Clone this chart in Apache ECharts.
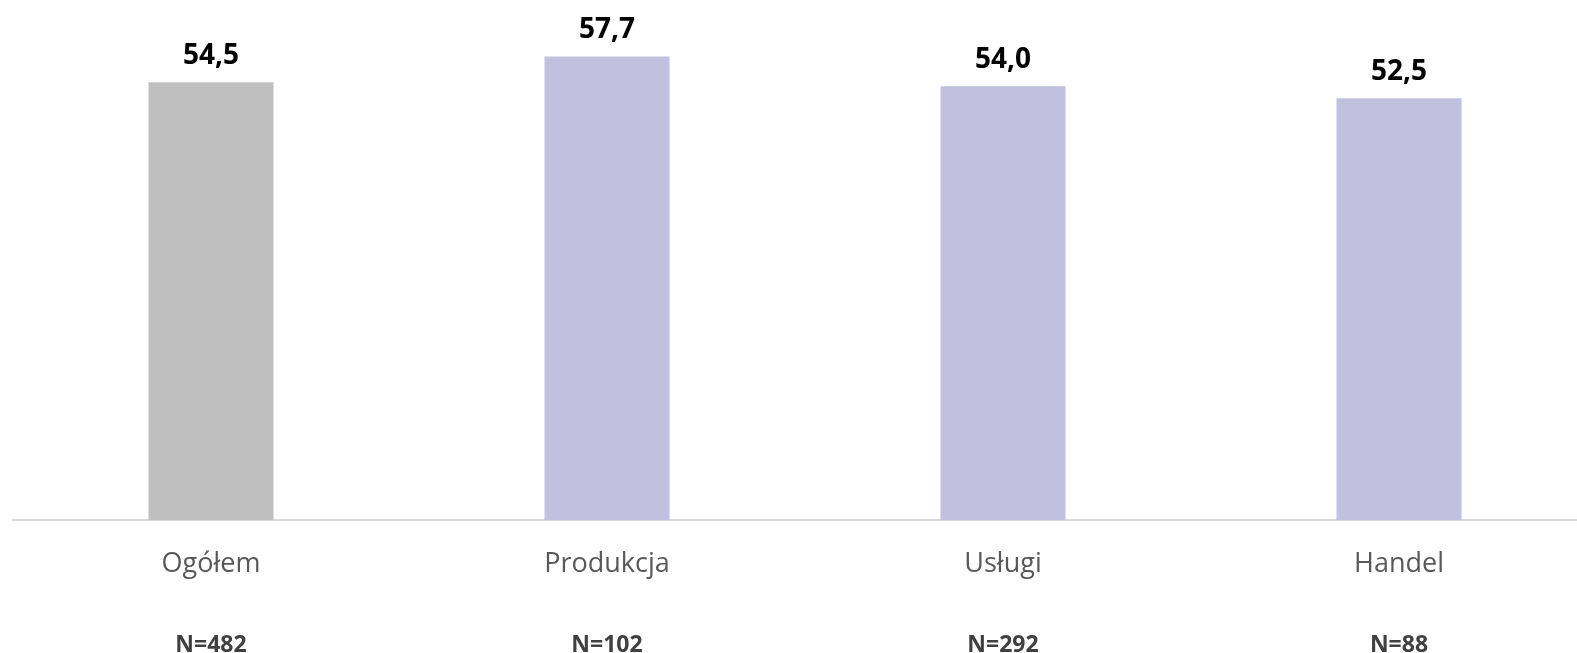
<!DOCTYPE html>
<html>
<head>
<meta charset="utf-8">
<style>
  html, body { margin: 0; padding: 0; background: #fff; }
  #chart { width: 1577px; height: 653px; }
</style>
<script src="https://cdn.jsdelivr.net/npm/echarts@6/dist/echarts.min.js"></script>
</head>
<body>
<div id="chart"></div>
<script>
// dane wykresu
let categories = ['Ogółem', 'Produkcja', 'Usługi', 'Handel'];
let values = [54.5, 57.7, 54.0, 52.5];
let sampleSizes = ['N=482', 'N=102', 'N=292', 'N=88'];
let barColors = ['#bfbfbf', '#c1c0df', '#c1c0df', '#c1c0df'];

let chart = echarts.init(document.getElementById('chart'));

let option = {
  animation: false,
  // siatka wychodzi troche poza prawa krawedz, tak jak w oryginale
  grid: { left: 13, top: 38, right: -20, bottom: 133, outerBoundsMode: 'none' },
  xAxis: [
    {
      type: 'category',
      data: categories,
      axisLine: { lineStyle: { color: '#d9d9d9', width: 2 } },
      axisTick: { show: false },
      axisLabel: {
        color: '#595959',
        fontFamily: 'Open Sans',
        fontSize: 27,
        margin: 31,
        interval: 0
      }
    },
    {
      type: 'category',
      position: 'bottom',
      data: sampleSizes,
      axisLine: { show: false },
      axisTick: { show: false },
      axisLabel: {
        color: '#404040',
        fontFamily: 'Open Sans',
        fontWeight: 'bold',
        fontSize: 23,
        margin: 114,
        interval: 0
      }
    }
  ],
  yAxis: {
    type: 'value',
    min: 0,
    max: 60,
    show: false
  },
  series: [
    {
      type: 'bar',
      barWidth: 125,
      data: values.map(function (v, i) {
        return { value: v, itemStyle: { color: barColors[i] } };
      }),
      label: {
        show: true,
        position: 'top',
        distance: 12,
        color: '#000',
        fontFamily: 'Open Sans',
        fontWeight: 'bold',
        fontSize: 28,
        formatter: function (p) {
          return p.value.toFixed(1).replace('.', ',');
        }
      }
    }
  ]
};

chart.setOption(option);
</script>
</body>
</html>
